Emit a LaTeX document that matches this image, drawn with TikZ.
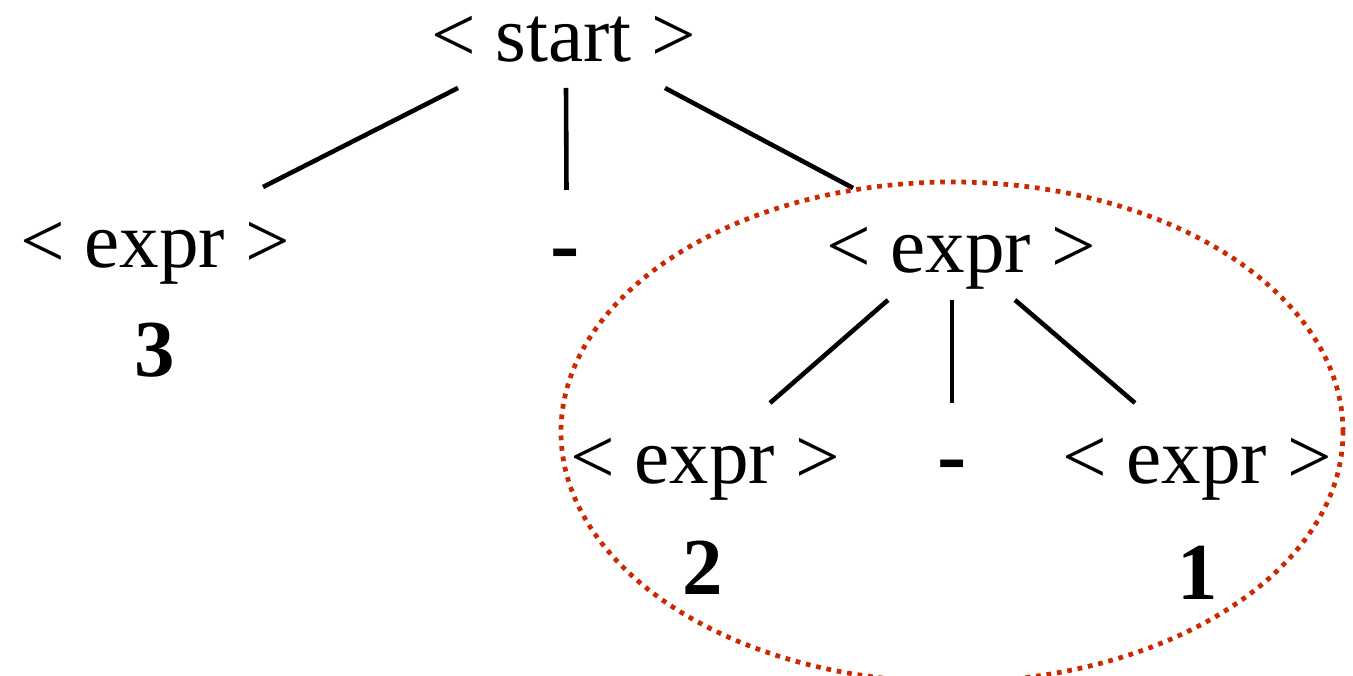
\documentclass[tikz,border=0pt]{standalone}
\usepackage{fontspec}
\setmainfont{Liberation Serif}
\usepackage{xcolor}
\usetikzlibrary{positioning,calc}
\definecolor{ringred}{RGB}{204,41,0}
\tikzset{
  symbol/.style={font=\fontsize{22.5}{27}\selectfont,inner sep=0pt,anchor=base},
  digit/.style={symbol,font=\fontsize{23}{27}\selectfont\bfseries},
  minus/.style={symbol,font=\fontsize{25}{30}\selectfont\bfseries},
  treeline/.style={line width=1.3pt},
  ring/.style={ringred,line width=1.35pt,dash pattern=on 1.35pt off 1.65pt}
}

\begin{document}
\begin{tikzpicture}
\useasboundingbox (0,0) rectangle (13.53,6.75);
% top of the tree
\node[symbol] (start) at (5.635,6.13) {< start >};
\node[symbol] (e1) at (1.55,4.07) {< expr >};
\node[minus] (m1) at (5.655,4.01) {-};
\node[symbol] (e2) at (9.61,4.02) {< expr >};
\node[digit] (n3) at (1.55,2.98) {3};
% subtree
\node[symbol] (e3) at (7.05,1.91) {< expr >};
\node[minus] (m2) at (9.52,1.90) {-};
\node[symbol] (e4) at (11.97,1.91) {< expr >};
\node[digit] (n2) at (7.03,0.80) {2};
\node[digit] (n1) at (11.98,0.75) {1};
\draw[treeline] ([xshift=-1.055cm,yshift=-0.26cm]start.base) -- ([xshift=1.08cm,yshift=0.81cm]e1.base);
\draw[treeline] ([xshift=0.025cm,yshift=-0.26cm]start.base) -- ([xshift=0.01cm,yshift=0.84cm]m1.base);
\draw[treeline] ([xshift=1.015cm,yshift=-0.26cm]start.base) -- ([xshift=-1.08cm,yshift=0.85cm]e2.base);
\draw[treeline] ([xshift=-0.73cm,yshift=-0.27cm]e2.base) -- ([xshift=0.65cm,yshift=0.81cm]e3.base);
\draw[treeline] ([xshift=-0.09cm,yshift=-0.27cm]e2.base) -- ([yshift=0.82cm]m2.base);
\draw[treeline] ([xshift=0.54cm,yshift=-0.27cm]e2.base) -- ([xshift=-0.62cm,yshift=0.81cm]e4.base);
% highlighted subtree
\draw[ring] (9.52,2.43) ellipse [x radius=3.91,y radius=2.50];
\end{tikzpicture}
\end{document}
